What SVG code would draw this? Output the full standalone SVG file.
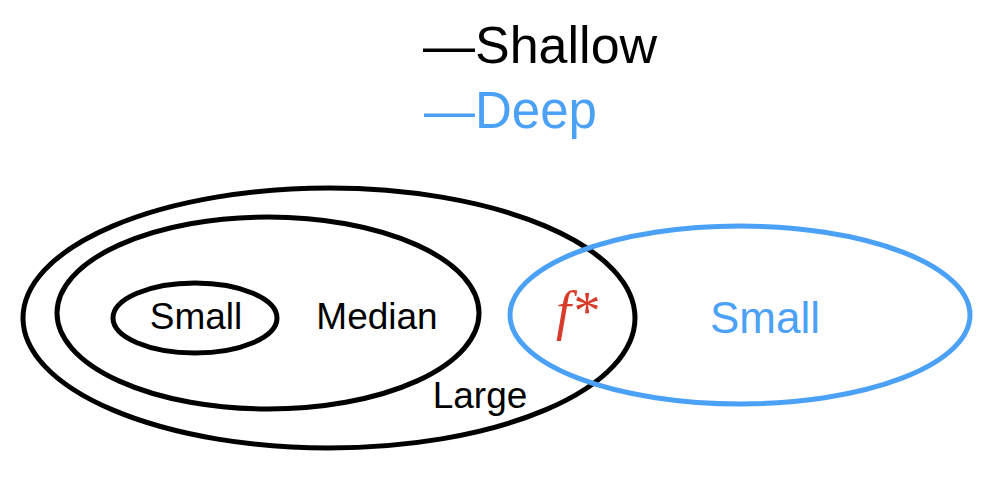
<svg xmlns="http://www.w3.org/2000/svg" width="990" height="484" viewBox="0 0 990 484">
<style>
.b{fill:none;stroke:#000;stroke-width:5}
.u{fill:none;stroke:#4ba1f6;stroke-width:5}
.t{font-family:"Liberation Sans",Arial,sans-serif;fill:#000}
.tb{font-family:"Liberation Sans",Arial,sans-serif;fill:#4ba1f6}
.f{font-family:"Liberation Serif","Times New Roman",serif;font-style:italic;fill:#d83b2a}
</style>
<rect width="990" height="484" fill="#fff"/>
<g id="legend">
<text class="t" x="423" y="63" font-size="52">—Shallow</text>
<text class="tb" x="424" y="128" font-size="51">—Deep</text>
</g>
<g id="connectors"></g>
<g id="large">
<ellipse class="b" cx="329" cy="318" rx="306" ry="130"/>
<text class="t" x="480" y="408" font-size="37" text-anchor="middle">Large</text>
</g>
<g id="median">
<ellipse class="b" cx="268" cy="313" rx="211" ry="96"/>
<text class="t" x="377" y="329" font-size="37" text-anchor="middle">Median</text>
</g>
<g id="small-shallow">
<ellipse class="b" cx="195" cy="318" rx="82" ry="35"/>
<text class="t" x="196" y="329" font-size="37" text-anchor="middle">Small</text>
</g>
<g id="small-deep">
<ellipse class="u" cx="740" cy="315" rx="230" ry="89"/>
<text class="tb" x="765" y="333" font-size="44" text-anchor="middle">Small</text>
</g>
<g id="fstar">
<text class="f" x="577" y="329" font-size="54" text-anchor="middle">f*</text>
</g>
</svg>
